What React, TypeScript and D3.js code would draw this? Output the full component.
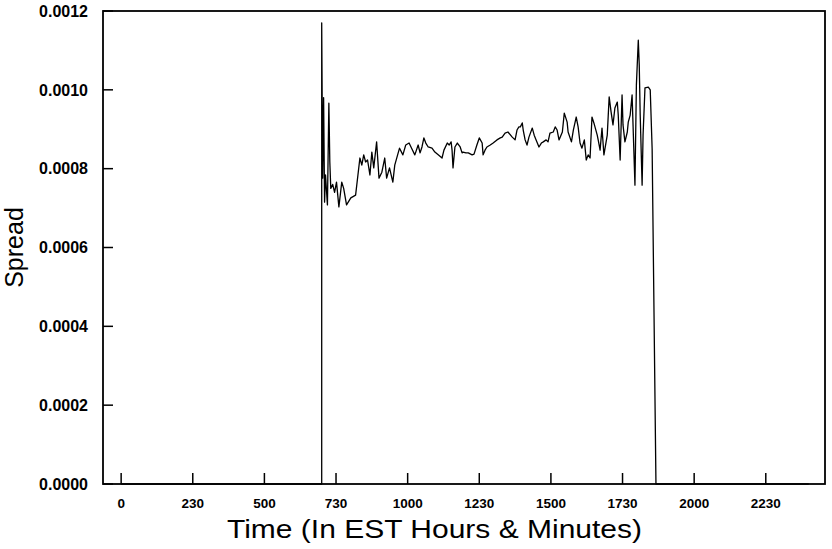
import React from "react";
import * as d3 from "d3";

// Time in minutes since midnight (EST)
const times: number[] = [
  0, 420, 420, 422, 424, 426, 428, 432, 435, 437, 439, 443, 447, 451, 456, 462, 466, 472, 481, 491,
  500, 504, 508, 512, 516, 521, 525, 529, 535, 540, 546, 552, 556, 562, 569, 573, 579, 583, 590, 596,
  603, 609, 615, 622, 626, 630, 634, 638, 643, 651, 657, 664, 672, 676, 683, 687, 691, 693, 695, 699,
  704, 710, 714, 716, 722, 727, 735, 739, 745, 750, 756, 758, 762, 766, 773, 779, 787, 794, 798, 804,
  810, 819, 825, 829, 833, 836, 840, 842, 846, 850, 854, 861, 865, 869, 875, 880, 884, 890, 894, 898,
  905, 909, 913, 917, 924, 928, 934, 936, 943, 947, 953, 957, 961, 965, 970, 974, 978, 982, 986, 990,
  997, 999, 1003, 1007, 1011, 1018, 1022, 1026, 1030, 1034, 1039, 1041, 1045, 1049, 1051, 1055, 1060, 1062, 1066, 1070,
  1072, 1076, 1079, 1083, 1085, 1087, 1091, 1093, 1097, 1104, 1108, 1112, 1120, 1440,
];

// Spread values
const spread: number[] = [
  0, 0, 0.00117, 0.000776, 0.00098, 0.000715, 0.000784, 0.000708, 0.000966, 0.000817, 0.00075, 0.00076, 0.00074, 0.000766, 0.000703, 0.000766, 0.00075, 0.000708, 0.000726, 0.000733,
  0.000827, 0.000809, 0.000835, 0.000817, 0.000822, 0.000784, 0.000842, 0.000802, 0.000868, 0.000776, 0.000791, 0.000827, 0.000776, 0.000802, 0.000766, 0.000809, 0.000835, 0.000852, 0.000835, 0.00086,
  0.000865, 0.00085, 0.000835, 0.00086, 0.00084, 0.000855, 0.000878, 0.000865, 0.000855, 0.000852, 0.000842, 0.000835, 0.000827, 0.000847, 0.000865, 0.00086, 0.000868, 0.000847, 0.000802, 0.000855,
  0.000865, 0.000855, 0.00084, 0.000842, 0.00084, 0.00084, 0.000835, 0.000837, 0.00086, 0.000878, 0.000865, 0.000835, 0.000847, 0.000855, 0.00086, 0.000865, 0.000873, 0.000878, 0.00088, 0.00089,
  0.000893, 0.00088, 0.000873, 0.000898, 0.000906, 0.000906, 0.000916, 0.000898, 0.000873, 0.00086, 0.00088, 0.000903, 0.000885, 0.000873, 0.000855, 0.000865, 0.000868, 0.000873, 0.000868, 0.00089,
  0.000893, 0.000906, 0.000898, 0.000873, 0.000893, 0.000941, 0.000918, 0.000893, 0.000868, 0.000898, 0.000931, 0.000906, 0.000865, 0.000852, 0.000873, 0.000822, 0.000835, 0.000827, 0.000931, 0.000916,
  0.000885, 0.000873, 0.000847, 0.000903, 0.000835, 0.000885, 0.000982, 0.000944, 0.000911, 0.000954, 0.000969, 0.000936, 0.000822, 0.000987, 0.000911, 0.000868, 0.000893, 0.000918, 0.000936, 0.000987,
  0.000911, 0.000758, 0.001012, 0.001126, 0.001063, 0.000936, 0.000758, 0.000885, 0.001005, 0.001007, 0.001, 0.00085, 0, 0,
];

const yTicks: number[] = [0, 0.0002, 0.0004, 0.0006, 0.0008, 0.001, 0.0012];
const xTickValues: number[] = [0, 150, 300, 450, 600, 750, 900, 1050, 1200, 1350];
const xTickLabels: string[] = ["0", "230", "500", "730", "1000", "1230", "1500", "1730", "2000", "2230"];

const W = 832;
const H = 549;
const M = { left: 103, right: 7, top: 11, bottom: 65 };

export default function App() {
  const x = d3.scaleLinear().domain([-38, 1474]).range([M.left, W - M.right]);
  const y = d3.scaleLinear().domain([0, 0.0012]).range([H - M.bottom, M.top]);
  const pts: [number, number][] = times.map((t, i) => [t, spread[i]]);
  const line = d3
    .line<[number, number]>()
    .x((d) => x(d[0]))
    .y((d) => y(d[1]));
  const x0 = M.left;
  const x1 = W - M.right;
  const y0 = H - M.bottom;
  const y1 = M.top;
  const font = "'Liberation Sans', Arial, Helvetica, sans-serif";

  return (
    <svg
      width={W}
      height={H}
      style={{ position: "absolute", left: 0, top: 0, background: "#fff" }}
      fontFamily={font}
    >
      <rect x={0} y={0} width={W} height={H} fill="#fff" />
      <path d={line(pts) || ""} fill="none" stroke="#000" strokeWidth={1.3} strokeLinejoin="round" />
      {/* frame */}
      <rect x={x0} y={y1} width={x1 - x0} height={y0 - y1} fill="none" stroke="#000" strokeWidth={1.8} />
      {/* y ticks */}
      {yTicks.map((v, i) => (
        <g key={"y" + i}>
          <line x1={x0} x2={x0 + 10} y1={y(v)} y2={y(v)} stroke="#000" strokeWidth={1.5} />
          <text
            x={88}
            y={y(v)}
            dy="0.36em"
            textAnchor="end"
            fontSize={16}
            fontWeight="bold"
          >
            {v.toFixed(4)}
          </text>
        </g>
      ))}
      {/* x ticks */}
      {xTickValues.map((v, i) => (
        <g key={"x" + i}>
          <line x1={x(v)} x2={x(v)} y1={y0} y2={y0 - 11} stroke="#000" strokeWidth={1.5} />
          <text x={x(v)} y={508} textAnchor="middle" fontSize={13.5} fontWeight="bold">
            {xTickLabels[i]}
          </text>
        </g>
      ))}
      <text
        x={(227 + 642) / 2}
        y={538}
        textAnchor="middle"
        fontSize={25}
        textLength={415}
        lengthAdjust="spacingAndGlyphs"
      >
        Time (In EST Hours &amp; Minutes)
      </text>
      <text
        transform={`translate(23, ${(y0 + y1) / 2}) rotate(-90)`}
        textAnchor="middle"
        fontSize={25}
      >
        Spread
      </text>
    </svg>
  );
}
